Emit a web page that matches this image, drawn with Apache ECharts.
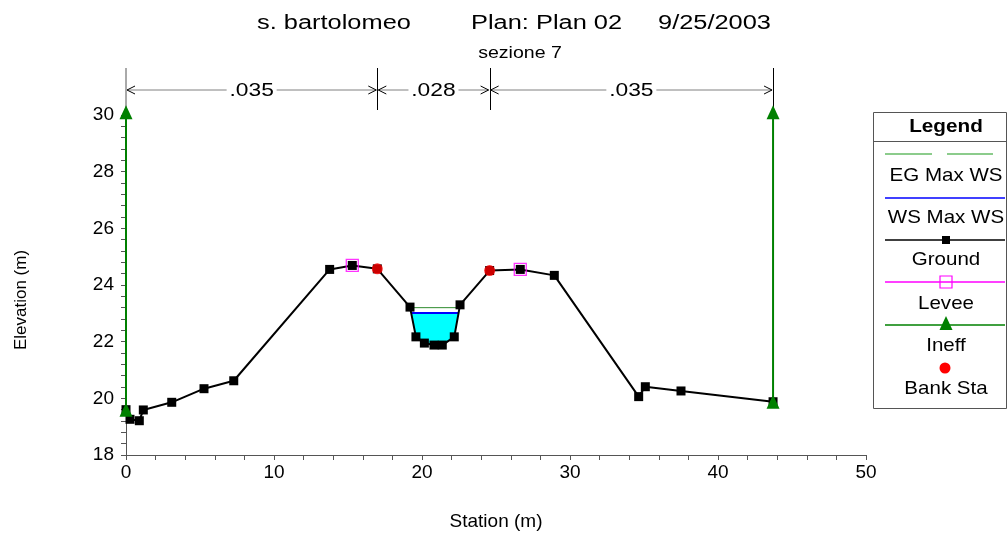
<!DOCTYPE html>
<html><head><meta charset="utf-8">
<script src="https://cdn.jsdelivr.net/npm/echarts@6/dist/echarts.min.js"></script>
<style>html,body{margin:0;padding:0;background:#fff}#c{width:1008px;height:536px}</style>
</head><body><div id="c"></div>
<script>
// ---- data ----
const groundStation = [0, 0.27, 0.90, 1.17, 3.09, 5.27, 7.28, 13.76, 15.29, 16.98, 19.19, 19.59, 20.16, 20.81, 21.37, 22.18, 22.57, 24.57, 26.64, 28.94, 34.64, 35.09, 37.50, 43.72];
const groundElev    = [19.60, 19.26, 19.21, 19.59, 19.86, 20.34, 20.62, 24.55, 24.69, 24.57, 23.22, 22.17, 21.95, 21.88, 21.88, 22.17, 23.30, 24.51, 24.55, 24.34, 20.06, 20.41, 20.26, 19.88];
const wsElev = 23.01;          // WS Max WS
const egElev = 23.20;          // EG Max WS
const leveeStation = [15.29, 26.64];
const leveeElev    = [24.69, 24.55];
const bankStation  = [16.98, 24.57];
const bankElev     = [24.57, 24.51];
const ineffStation = [0, 43.72];
const ineffBottom  = [19.60, 19.88];
const ineffTop     = [30.10, 30.10];
const nBreaks = [0, 16.98, 24.57, 43.72];
const nValues = ['.035', '.028', '.035'];
const legendLabels = ['EG Max WS', 'WS Max WS', 'Ground', 'Levee', 'Ineff', 'Bank Sta'];
const titleParts = ['s. bartolomeo', 'Plan: Plan 02', '9/25/2003'];
const subTitle = 'sezione 7';
const xName = 'Station (m)';
const yName = 'Elevation (m)';

const FONT = '"Liberation Sans", Arial, sans-serif';
const AXIS = '#555';

// water body polygon (ground below a water level, between bank stations)
function clipBelow(level) {
  const pts = [];
  for (let i = 0; i < groundStation.length - 1; i++) {
    const x1 = groundStation[i], y1 = groundElev[i], x2 = groundStation[i + 1], y2 = groundElev[i + 1];
    if (x2 <= bankStation[0] || x1 >= bankStation[1]) continue;
    if (y1 < level) pts.push([x1, y1]);
    if ((y1 - level) * (y2 - level) < 0) {
      const t = (level - y1) / (y2 - y1);
      pts.push([x1 + t * (x2 - x1), level]);
    }
  }
  return pts;
}
const waterPoly = clipBelow(wsElev);
const egPoly = clipBelow(egElev);
const wsLine = [waterPoly[0], waterPoly[waterPoly.length - 1]];
const egLine = [egPoly[0], egPoly[egPoly.length - 1]];

const ground = groundStation.map((s, i) => [s, groundElev[i]]);
const levee = leveeStation.map((s, i) => [s, leveeElev[i]]);
const bank = bankStation.map((s, i) => [s, bankElev[i]]);

const chart = echarts.init(document.getElementById('c'));

const txt = (text, x, y, size, opts) => Object.assign({
  type: 'text', x: x, y: y, silent: true,
  style: Object.assign({ text: text, font: size + 'px ' + FONT, fill: '#000', align: 'center', verticalAlign: 'middle' }, (opts && opts.style) || {})
}, opts && opts.el || {});

// legend graphic
const LX = 946;
const legendGraphic = [
  { type: 'rect', shape: { x: 873.5, y: 112.5, width: 133, height: 296 }, style: { fill: '#fff', stroke: '#555', lineWidth: 1 }, z: 10 },
  { type: 'line', shape: { x1: 873.5, y1: 141.5, x2: 1006.5, y2: 141.5 }, style: { stroke: '#555', lineWidth: 1 }, z: 11 },
  txt('Legend', LX, 127, 18, { style: { font: 'bold 18px ' + FONT }, el: { scaleX: 1.15, z: 11 } }),
  // EG
  { type: 'line', shape: { x1: 885, y1: 154, x2: 932, y2: 154 }, style: { stroke: '#66bb66', lineWidth: 1.5 }, z: 11 },
  { type: 'line', shape: { x1: 947, y1: 154, x2: 993, y2: 154 }, style: { stroke: '#66bb66', lineWidth: 1.5 }, z: 11 },
  txt(legendLabels[0], LX, 176, 19, { el: { scaleX: 1.08, z: 11 } }),
  // WS
  { type: 'line', shape: { x1: 885, y1: 198, x2: 1005, y2: 198 }, style: { stroke: '#0000ff', lineWidth: 1.5 }, z: 11 },
  txt(legendLabels[1], LX, 218, 19, { el: { scaleX: 1.08, z: 11 } }),
  // Ground
  { type: 'line', shape: { x1: 885, y1: 240, x2: 1005, y2: 240 }, style: { stroke: '#000', lineWidth: 1.5 }, z: 11 },
  { type: 'rect', shape: { x: 942, y: 236, width: 8, height: 8 }, style: { fill: '#000' }, z: 12 },
  txt(legendLabels[2], LX, 260, 19, { el: { scaleX: 1.08, z: 11 } }),
  // Levee
  { type: 'line', shape: { x1: 885, y1: 282, x2: 1005, y2: 282 }, style: { stroke: '#ff00ff', lineWidth: 1.5 }, z: 11 },
  { type: 'rect', shape: { x: 940, y: 276, width: 12, height: 12 }, style: { fill: 'none', stroke: '#ff00ff', lineWidth: 1.2 }, z: 12 },
  txt(legendLabels[3], LX, 304, 19, { el: { scaleX: 1.08, z: 11 } }),
  // Ineff
  { type: 'line', shape: { x1: 885, y1: 325, x2: 1005, y2: 325 }, style: { stroke: '#008000', lineWidth: 1.5 }, z: 11 },
  { type: 'polygon', shape: { points: [[946, 316], [939.5, 330], [952.5, 330]] }, style: { fill: '#008000' }, z: 12 },
  txt(legendLabels[4], LX, 346, 19, { el: { scaleX: 1.08, z: 11 } }),
  // Bank Sta
  { type: 'circle', shape: { cx: 945, cy: 368, r: 5.5 }, style: { fill: '#ff0000' }, z: 12 },
  txt(legendLabels[5], LX, 389, 19, { el: { scaleX: 1.08, z: 11 } })
];

const titleGraphic = [
  txt(titleParts[0], 257, 23, 20, { style: { align: 'left' }, el: { scaleX: 1.27 } }),
  txt(titleParts[1], 471, 23, 20, { style: { align: 'left' }, el: { scaleX: 1.27 } }),
  txt(titleParts[2], 658, 23, 20, { style: { align: 'left' }, el: { scaleX: 1.27 } }),
  txt(subTitle, 520, 53, 17, { el: { scaleX: 1.15 } }),
  txt(yName, 21, 300, 17, { el: { rotation: Math.PI / 2 } })
];

const option = {
  animation: false,
  backgroundColor: '#fff',
  grid: { left: 126, right: 142, top: 115, bottom: 76 },
  xAxis: {
    type: 'value', min: 0, max: 50, interval: 10,
    name: xName, nameLocation: 'middle', nameGap: 57,
    nameTextStyle: { fontFamily: FONT, fontSize: 19, color: '#000' },
    axisLine: { onZero: false, lineStyle: { color: AXIS, width: 1 } },
    axisTick: { inside: false, length: 5, lineStyle: { color: AXIS } },
    minorTick: { show: true, splitNumber: 5, length: 5, lineStyle: { color: AXIS } },
    axisLabel: { fontFamily: FONT, fontSize: 19, color: '#000', margin: 8 },
    splitLine: { show: false }
  },
  yAxis: {
    type: 'value', min: 18, max: 30, interval: 2,
    axisLine: { show: true, onZero: false, lineStyle: { color: AXIS, width: 1 } },
    axisTick: { show: true, inside: false, length: 5, lineStyle: { color: AXIS } },
    minorTick: { show: true, splitNumber: 5, length: 5, lineStyle: { color: AXIS } },
    axisLabel: { fontFamily: FONT, fontSize: 19, color: '#000', margin: 12 },
    splitLine: { show: false }
  },
  graphic: titleGraphic.concat(legendGraphic),
  series: [
    {
      name: 'water', type: 'custom', z: 1, silent: true,
      data: [waterPoly[0]],
      renderItem: function (params, api) {
        return { type: 'polygon', shape: { points: waterPoly.map(p => api.coord(p)) }, style: { fill: '#00ffff' } };
      }
    },
    {
      name: 'n values', type: 'custom', z: 2, silent: true, clip: false,
      data: [[0, 30]],
      renderItem: function (params, api) {
        const top = params.coordSys.y;
        const yT = top - 47, yB = top - 5, yA = top - 25;
        const xs = nBreaks.map(s => api.coord([s, 20])[0]);
        const ch = [];
        xs.forEach(function (x, i) {
          if (i === 0) { ch.push({ type: 'line', shape: { x1: x, y1: yT, x2: x, y2: top }, style: { stroke: AXIS, lineWidth: 1 } }); }
          else ch.push({ type: 'line', shape: { x1: Math.round(x) + 0.5, y1: yT, x2: Math.round(x) + 0.5, y2: yB }, style: { stroke: '#000', lineWidth: 1 } });
        });
        for (let i = 0; i < nValues.length; i++) {
          const a = xs[i] + 1, b = xs[i + 1] - 1, m = (xs[i] + xs[i + 1]) / 2, hw = 25;
          ch.push({ type: 'line', shape: { x1: a, y1: yA, x2: m - hw, y2: yA }, style: { stroke: '#808080', lineWidth: 1 } });
          ch.push({ type: 'line', shape: { x1: m + hw, y1: yA, x2: b, y2: yA }, style: { stroke: '#808080', lineWidth: 1 } });
          ch.push({ type: 'polyline', shape: { points: [[a + 8, yA - 4], [a, yA], [a + 8, yA + 4]] }, style: { stroke: '#000', lineWidth: 1, fill: 'none' } });
          ch.push({ type: 'polyline', shape: { points: [[b - 8, yA - 4], [b, yA], [b - 8, yA + 4]] }, style: { stroke: '#000', lineWidth: 1, fill: 'none' } });
          ch.push({ type: 'text', x: m, y: yA + 1, scaleX: 1.2, style: { text: nValues[i], font: '19px ' + FONT, fill: '#000', align: 'center', verticalAlign: 'middle' } });
        }
        return { type: 'group', children: ch };
      }
    },
    {
      name: 'EG Max WS', type: 'line', z: 3, data: egLine, symbol: 'none',
      lineStyle: { color: '#2e8b2e', width: 1 }
    },
    {
      name: 'WS Max WS', type: 'line', z: 4, data: wsLine, symbol: 'none',
      lineStyle: { color: '#0000ff', width: 2 }
    },
    {
      name: 'Ground', type: 'line', z: 5, data: ground, symbol: 'rect', symbolSize: 9, showAllSymbol: true,
      itemStyle: { color: '#000' }, lineStyle: { color: '#000', width: 2 }
    },
    {
      name: 'Levee', type: 'scatter', z: 6, data: levee, symbol: 'rect', symbolSize: 12,
      itemStyle: { color: 'rgba(0,0,0,0)', borderColor: '#ff00ff', borderWidth: 1.3 }
    },
    {
      name: 'Ineff', type: 'line', z: 7, clip: false, symbol: 'triangle', symbolSize: [13, 14], showAllSymbol: true,
      data: [[ineffStation[0], ineffBottom[0]], [ineffStation[0], ineffTop[0]]],
      itemStyle: { color: '#008000' }, lineStyle: { color: '#008000', width: 2 }
    },
    {
      name: 'Ineff', type: 'line', z: 7, clip: false, symbol: 'triangle', symbolSize: [13, 14], showAllSymbol: true,
      data: [[ineffStation[1], ineffBottom[1]], [ineffStation[1], ineffTop[1]]],
      itemStyle: { color: '#008000' }, lineStyle: { color: '#008000', width: 2 }
    },
    {
      name: 'Bank Sta', type: 'scatter', z: 8, data: bank, symbol: 'circle', symbolSize: 11,
      itemStyle: { color: '#ff0000' }
    }
  ]
};
chart.setOption(option);
</script>
</body></html>
